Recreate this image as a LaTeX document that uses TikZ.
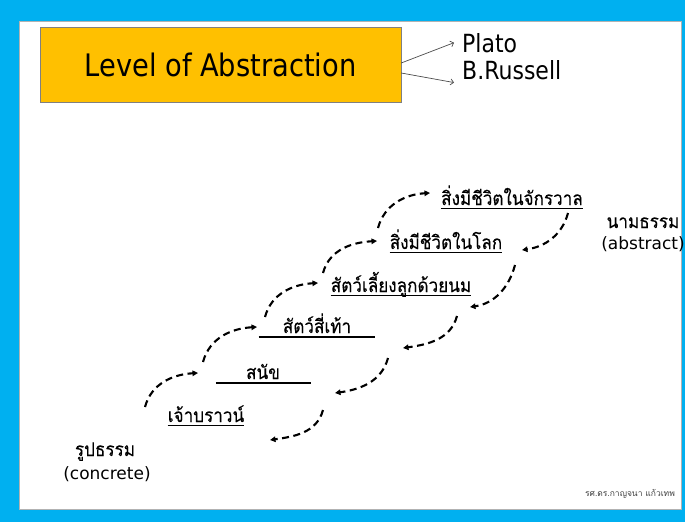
\documentclass[tikz,border=0pt]{standalone}
\usepackage{fontspec}
\setmainfont{DejaVu Sans}
\newfontfamily\latinc[FakeStretch=0.88]{DejaVu Sans}
\newfontfamily\thai[Script=Thai,FakeStretch=0.9,FakeBold=0.2]{Loma}
\newfontfamily\thaismall[Script=Thai]{Loma}
\usetikzlibrary{arrows.meta}
\definecolor{frameblue}{HTML}{00B0F0}
\definecolor{titlegold}{HTML}{FFC000}

\begin{document}
\begin{tikzpicture}[x=1pt,y=-1pt,
  thaitext/.style={inner sep=0pt, anchor=base, font=\thai\fontsize{19}{19}\selectfont},
  sidetext/.style={inner sep=0pt, anchor=base, font=\fontsize{17}{17}\selectfont},
  namebox/.style={inner sep=0pt, anchor=base west, font=\latinc\fontsize{25}{25}\selectfont},
  flow/.style={line width=2.1pt, dash pattern=on 7pt off 4.5pt, -{Triangle[length=5.5pt,width=5.5pt]}},
  pointer/.style={draw=black!70, line width=0.7pt, -{Straight Barb[length=3pt,width=6pt]}},
  uline/.style={line width=1.1pt}]
\useasboundingbox (0,0) rectangle (685,522);

% frame
\fill[frameblue] (0,0) rectangle (685,522);
\filldraw[fill=white, draw=gray!60, line width=0.8pt] (19,21) rectangle (681,509);

% title block
\node[draw=gray, fill=titlegold, minimum width=361pt, minimum height=75pt,
      font=\latinc\fontsize{31}{31}\selectfont] (title) at (220.5,64.5) {Level of Abstraction};
\node[namebox] (plato) at (462,52) {Plato};
\node[namebox] (russell) at (462,79) {B.Russell};
\draw[pointer] ([yshift=1.5pt]title.east) -- ([xshift=-8pt]plato.west);
\draw[pointer] ([yshift=-8.5pt]title.east) -- ([xshift=-8pt,yshift=-3pt]russell.south west);

% levels
\node[thaitext] (t1) at (512,205) {สิ่งมีชีวิตในจักรวาล};
\node[thaitext] (t2) at (446,249) {สิ่งมีชีวิตในโลก};
\node[thaitext] (t3) at (401,292) {สัตว์เลี้ยงลูกด้วยนม};
\node[thaitext] (t4) at (317,333) {สัตว์สี่เท้า};
\node[thaitext] (t5) at (263,379) {สนัข};
\node[thaitext] (t6) at (206,422) {เจ้าบราวน์};

\draw[uline] ([yshift=-3.5pt]t1.base west) -- ([yshift=-3.5pt]t1.base east);
\draw[uline] ([yshift=-3.5pt]t2.base west) -- ([yshift=-3.5pt]t2.base east);
\draw[uline] ([yshift=-3.5pt]t3.base west) -- ([yshift=-3.5pt]t3.base east);
\draw[uline] ([xshift=-24pt,yshift=-4pt]t4.base west) -- ([xshift=24pt,yshift=-4pt]t4.base east);
\draw[uline] ([xshift=-30pt,yshift=-4pt]t5.base west) -- ([xshift=31pt,yshift=-4pt]t5.base east);
\draw[uline] ([yshift=-3.5pt]t6.base west) -- ([yshift=-3.5pt]t6.base east);

% ends of the scale
\node[thaitext] (absth) at (643,228) {นามธรรม};
\node[sidetext] (abslat) at (643,249) {(abstract)};
\node[thaitext] (conth) at (105,456) {รูปธรรม};
\node[sidetext] (conlat) at (107,479) {(concrete)};

% upward steps
\coordinate (a1s) at (145,407); \coordinate (a1e) at (198,373);
\coordinate (a2s) at (203,362); \coordinate (a2e) at (257,327);
\coordinate (a3s) at (265,317); \coordinate (a3e) at (318,283);
\coordinate (a4s) at (323,273); \coordinate (a4e) at (377,241);
\coordinate (a5s) at (378,228); \coordinate (a5e) at (430,193);
\foreach \i in {1,...,5}
  \draw[flow] (a\i s) to[out=75,in=183] (a\i e);

% downward steps
\coordinate (b1s) at (568,213); \coordinate (b1e) at (522,250);
\coordinate (b2s) at (515,265); \coordinate (b2e) at (470,307);
\coordinate (b3s) at (457,316); \coordinate (b3e) at (403,348);
\coordinate (b4s) at (388,358); \coordinate (b4e) at (335,393);
\coordinate (b5s) at (323,410); \coordinate (b5e) at (270,440);
\foreach \i in {1,...,5}
  \draw[flow] (b\i s) to[out=-105,in=8] (b\i e);

% credit
\node[font=\thaismall\fontsize{8.5}{8.5}\selectfont, text=black!75] (credit) at (630,494) {รศ.ดร.กาญจนา แก้วเทพ};
\end{tikzpicture}
\end{document}
